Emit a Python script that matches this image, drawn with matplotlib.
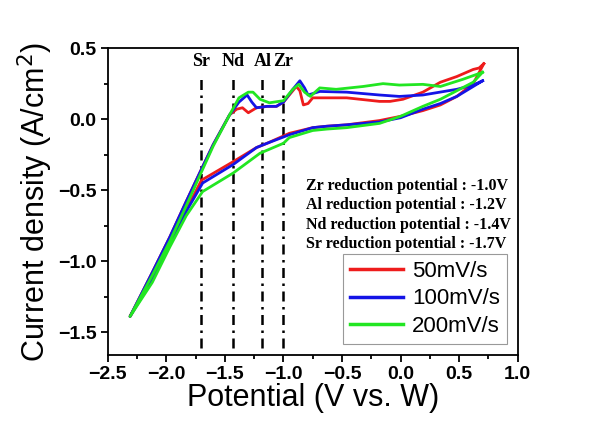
import matplotlib
matplotlib.use('Agg')
import matplotlib.pyplot as plt
from matplotlib.ticker import MultipleLocator

plt.rcParams['font.family'] = ['Liberation Sans', 'DejaVu Sans']

# CV loops: cathodic branch (0.7 V -> -2.3 V) followed by anodic branch back
x_50 = [0.71, 0.62, 0.48, 0.34, 0.19, 0.0, -0.18, -0.46, -0.63, -0.75, -0.95, -1.14, -1.23, -1.43, -1.70,
        -1.83, -1.97, -2.12, -2.31,
        -2.12, -1.97, -1.83, -1.71, -1.60, -1.46, -1.40, -1.35, -1.30, -1.23, -1.14, -1.06, -1.0, -0.92,
        -0.89, -0.86, -0.83, -0.79, -0.75, -0.46, -0.18, -0.09, 0.02, 0.19, 0.34, 0.48, 0.62, 0.67, 0.71]
y_50 = [0.39, 0.25, 0.16, 0.10, 0.06, 0.02, -0.01, -0.04, -0.05, -0.06, -0.10, -0.17, -0.20, -0.30, -0.43,
        -0.64, -0.86, -1.12, -1.39,
        -1.08, -0.83, -0.58, -0.37, -0.18, 0.03, 0.07, 0.08, 0.045, 0.08, 0.09, 0.09, 0.12, 0.20,
        0.23, 0.20, 0.10, 0.11, 0.15, 0.15, 0.125, 0.125, 0.14, 0.19, 0.26, 0.30, 0.35, 0.36, 0.39]

x_100 = [0.70, 0.62, 0.48, 0.34, 0.19, 0.0, -0.18, -0.46, -0.63, -0.75, -0.95, -1.14, -1.23, -1.43, -1.69,
         -1.83, -1.97, -2.12, -2.31,
         -2.12, -1.97, -1.83, -1.71, -1.60, -1.46, -1.38, -1.31, -1.27, -1.23, -1.14, -1.06, -1.0, -0.92,
         -0.86, -0.82, -0.79, -0.69, -0.46, -0.18, -0.01, 0.19, 0.48, 0.62, 0.70]
y_100 = [0.27, 0.23, 0.16, 0.11, 0.07, 0.01, -0.02, -0.04, -0.05, -0.06, -0.11, -0.17, -0.20, -0.32, -0.45,
         -0.65, -0.87, -1.13, -1.39,
         -1.08, -0.83, -0.58, -0.37, -0.18, 0.03, 0.12, 0.17, 0.12, 0.08, 0.09, 0.09, 0.12, 0.21,
         0.27, 0.22, 0.17, 0.195, 0.19, 0.17, 0.16, 0.17, 0.21, 0.24, 0.27]

x_200 = [0.70, 0.62, 0.48, 0.34, 0.19, 0.0, -0.18, -0.46, -0.63, -0.75, -0.95, -1.0, -1.2, -1.43, -1.69,
         -1.83, -1.97, -2.12, -2.31,
         -2.12, -1.97, -1.83, -1.71, -1.60, -1.46, -1.38, -1.30, -1.26, -1.20, -1.12, -1.0, -0.92,
         -0.87, -0.82, -0.77, -0.69, -0.55, -0.32, -0.15, -0.01, 0.19, 0.34, 0.53, 0.70]
y_200 = [0.33, 0.26, 0.20, 0.14, 0.09, 0.02, -0.03, -0.06, -0.07, -0.08, -0.13, -0.17, -0.24, -0.38, -0.51,
         -0.68, -0.90, -1.15, -1.39,
         -1.10, -0.86, -0.61, -0.39, -0.19, 0.03, 0.15, 0.19, 0.19, 0.14, 0.115, 0.13, 0.21,
         0.245, 0.19, 0.16, 0.22, 0.21, 0.23, 0.25, 0.24, 0.245, 0.23, 0.28, 0.33]

elements = ['Sr', 'Nd', 'Al', 'Zr']
potentials = [-1.7, -1.43, -1.18, -1.0]
notes = ['Zr reduction potential : -1.0V',
         'Al reduction potential : -1.2V',
         'Nd reduction potential : -1.4V',
         'Sr reduction potential : -1.7V']

fig = plt.figure(figsize=(6.02, 4.26), dpi=100)
ax = fig.add_axes([0.179, 0.167, 0.681, 0.720])

ax.plot(x_50, y_50, color='#ee1c1c', lw=2, label='50mV/s', zorder=3)
ax.plot(x_100, y_100, color='#1414e6', lw=2, label='100mV/s', zorder=4)
ax.plot(x_200, y_200, color='#22e622', lw=2, label='200mV/s', zorder=5)

# reduction potential markers
for el, p in zip(elements, potentials):
    ax.plot([p, p], [-1.61, 0.30], color='black', lw=1.8, dashes=[4, 2.2, 1, 2.2], zorder=2)
    ax.text(p, 0.405, el, ha='center', va='center', fontsize=13, fontweight='bold',
            family='Liberation Serif')

for i, n in enumerate(notes):
    ax.text(-0.81, -0.47 - i * 0.137, n, ha='left', va='center', fontsize=11.5, fontweight='bold',
            family='Liberation Serif')

ax.set_xlim(-2.5, 1.0)
ax.set_ylim(-1.66, 0.5)
ax.xaxis.set_major_locator(MultipleLocator(0.5))
ax.xaxis.set_minor_locator(MultipleLocator(0.25))
ax.yaxis.set_major_locator(MultipleLocator(0.5))
ax.yaxis.set_minor_locator(MultipleLocator(0.25))
ax.tick_params(which='both', direction='out', width=1.3)
ax.tick_params(which='major', length=5, labelsize=14, pad=3)
ax.tick_params(which='minor', length=3)
for lab in ax.get_xticklabels() + ax.get_yticklabels():
    lab.set_fontweight('bold')
for s in ax.spines.values():
    s.set_linewidth(1.3)

ax.set_xlabel('Potential (V vs. W)', fontsize=22, labelpad=0)
ax.set_ylabel('Current density (A/cm$^2$)', fontsize=22, labelpad=2)

leg = ax.legend(loc='lower right', fontsize=16, handlelength=2.4, labelspacing=0.3,
                handletextpad=0.4, borderpad=0.3, borderaxespad=0.5, fancybox=False,
                edgecolor='#999999', framealpha=1)
leg.get_frame().set_linewidth(0.8)
for line in leg.get_lines():
    line.set_linewidth(2.5)

plt.savefig('out.png', dpi=100)
